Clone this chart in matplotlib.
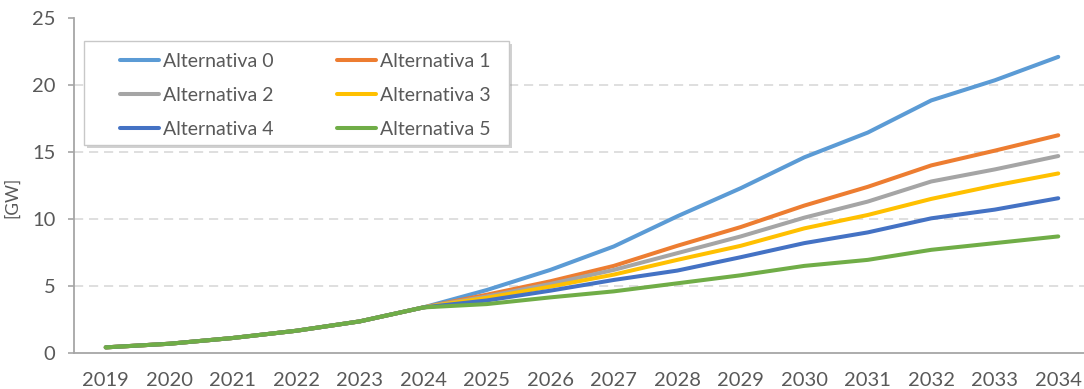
import matplotlib
matplotlib.use("Agg")
import matplotlib.pyplot as plt
from matplotlib.patches import Rectangle
from matplotlib.lines import Line2D

# Installed capacity per alternative [GW]
years = list(range(2019, 2035))
history = [0.42, 0.69, 1.12, 1.66, 2.36, 3.40]
alt0 = history + [4.70, 6.20, 7.95, 10.20, 12.30, 14.60, 16.45, 18.85, 20.35, 22.10]
alt1 = history + [4.35, 5.35, 6.50, 8.00, 9.40, 11.00, 12.40, 14.00, 15.10, 16.25]
alt2 = history + [4.22, 5.15, 6.20, 7.45, 8.70, 10.10, 11.30, 12.80, 13.70, 14.70]
alt3 = history + [4.12, 4.95, 5.85, 6.95, 8.00, 9.30, 10.30, 11.50, 12.50, 13.40]
alt4 = history + [3.92, 4.65, 5.45, 6.15, 7.15, 8.20, 9.00, 10.05, 10.70, 11.55]
alt5 = history + [3.65, 4.15, 4.60, 5.20, 5.80, 6.50, 6.95, 7.70, 8.20, 8.70]

series = [alt0, alt1, alt2, alt3, alt4, alt5]
labels = ["Alternativa 0", "Alternativa 1", "Alternativa 2",
          "Alternativa 3", "Alternativa 4", "Alternativa 5"]
colors = ["#5B9BD5", "#ED7D31", "#A5A5A5", "#FFC000", "#4472C4", "#70AD47"]

plt.rcParams["font.family"] = ["Lato", "DejaVu Sans"]
text_color = "#595959"
axis_color = "#A6A6A6"

W, H = 1084, 389
fig = plt.figure(figsize=(W / 100, H / 100), dpi=100)
# axes box in pixels: left 74, right 1090, bottom 353, top 18
ax = fig.add_axes([74 / W, (H - 353) / H, (1090 - 74) / W, (353 - 18) / H])

for vals, lab, col in zip(series, labels, colors):
    ax.plot(years, vals, color=col, lw=2.9, label=lab,
            solid_capstyle="round", solid_joinstyle="round")

ax.set_xlim(2018.5, 2034.5)
ax.set_ylim(0, 25)
ax.set_xticks(years)
ax.set_yticks([0, 5, 10, 15, 20, 25])

for s in ["top", "right"]:
    ax.spines[s].set_visible(False)
for s in ["left", "bottom"]:
    ax.spines[s].set_color(axis_color)
    ax.spines[s].set_linewidth(1.3)

ax.tick_params(axis="x", length=0, pad=14, labelsize=14.5, labelcolor=text_color)
ax.tick_params(axis="y", length=4.5, width=1.2, color=axis_color, pad=9,
               labelsize=14.5, labelcolor=text_color)

for yv in [5, 10, 15, 20]:
    ax.axhline(yv, color="#D9D9D9", lw=1.2, dashes=(5.5, 3.5), zorder=0)

ax.set_ylabel("[GW]", fontsize=12.5, color=text_color)
ax.yaxis.set_label_coords((20 - 74) / 1016, (353 - 197) / 335)

# legend panel with a soft drop shadow
lx0, ly0, lx1, ly1 = 84, 41, 509, 145
def fig_rect(x0, y0, x1, y1):
    return (x0 / W, 1 - y1 / H), (x1 - x0) / W, (y1 - y0) / H
(xy, w, h) = fig_rect(lx0 + 3, ly0 + 3, lx1 + 3, ly1 + 3)
fig.patches.append(Rectangle(xy, w, h, transform=fig.transFigure,
                             facecolor="#9A9A9A", alpha=0.45, edgecolor="none",
                             zorder=5))
(xy, w, h) = fig_rect(lx0, ly0, lx1, ly1)
fig.patches.append(Rectangle(xy, w, h, transform=fig.transFigure,
                             facecolor="white", edgecolor="#C8C8C8", lw=1.0,
                             zorder=6))

# entries laid out row by row (0 1 / 2 3 / 4 5)
order = [0, 2, 4, 1, 3, 5]
handles = [Line2D([], [], color=colors[i], lw=2.9, solid_capstyle="round")
           for i in order]
leg = fig.legend(handles, [labels[i] for i in order], ncol=2, frameon=False,
                 loc="upper left", bbox_to_anchor=(116 / W, 1 - 49 / H),
                 fontsize=14, labelcolor=text_color,
                 handlelength=2.0, handletextpad=0.2, columnspacing=3.3,
                 labelspacing=0.88, borderpad=0.2, borderaxespad=0)
leg.set_zorder(7)

fig.savefig("out.png", dpi=100)
